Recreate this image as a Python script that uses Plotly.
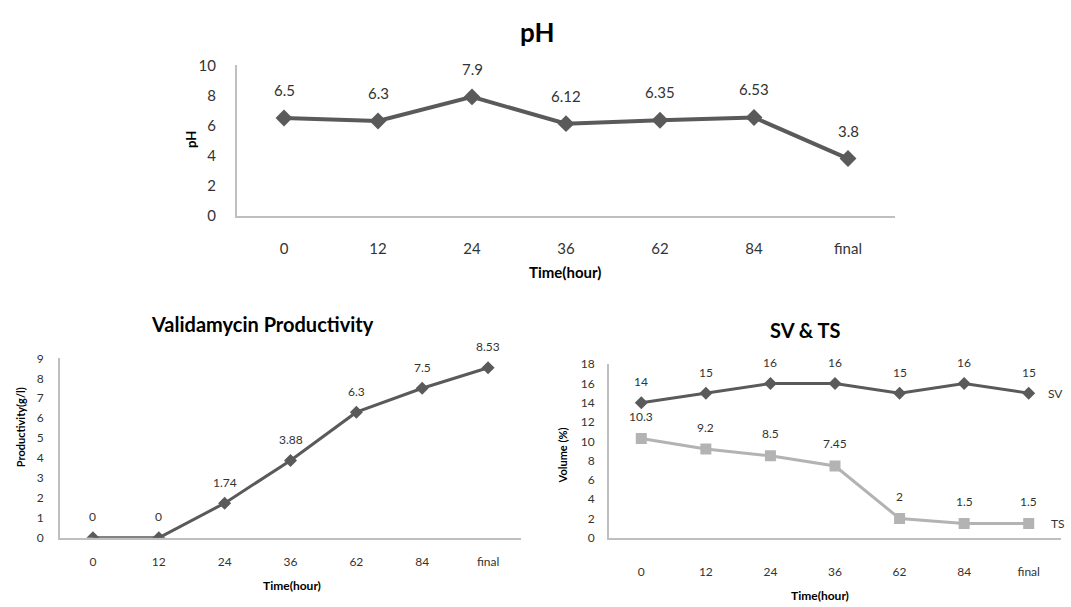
import plotly.graph_objects as go

W, H = 1071, 607

times = ["0", "12", "24", "36", "62", "84", "final"]
ph_values = [6.5, 6.3, 7.9, 6.12, 6.35, 6.53, 3.8]
ph_labels = ["6.5", "6.3", "7.9", "6.12", "6.35", "6.53", "3.8"]
prod_values = [0, 0, 1.74, 3.88, 6.3, 7.5, 8.53]
prod_labels = ["0", "0", "1.74", "3.88", "6.3", "7.5", "8.53"]
sv_values = [14, 15, 16, 16, 15, 16, 15]
sv_labels = ["14", "15", "16", "16", "15", "16", "15"]
ts_values = [10.3, 9.2, 8.5, 7.45, 2, 1.5, 1.5]
ts_labels = ["10.3", "9.2", "8.5", "7.45", "2", "1.5", "1.5"]

FONT = "Lato, 'Open Sans', sans-serif"
DARK = "#5a5a5a"
LIGHT = "#b3b3b3"
AXIS = "#bfbfbf"
TXT = "#333333"

def px_x(p):
    return p / W

def px_y(p):
    return 1 - p / H

fig = go.Figure()

fig.add_trace(go.Scatter(x=times, y=ph_values, mode="lines+markers", xaxis="x", yaxis="y",
                         line=dict(color=DARK, width=4),
                         marker=dict(symbol="diamond", size=13, color=DARK),
                         showlegend=False, hoverinfo="skip"))
fig.add_trace(go.Scatter(x=times, y=prod_values, mode="lines+markers", xaxis="x2", yaxis="y2",
                         line=dict(color=DARK, width=3),
                         marker=dict(symbol="diamond", size=10, color=DARK),
                         showlegend=False, hoverinfo="skip"))
fig.add_trace(go.Scatter(x=times, y=sv_values, mode="lines+markers", xaxis="x3", yaxis="y3",
                         line=dict(color=DARK, width=3),
                         marker=dict(symbol="diamond", size=10, color=DARK),
                         showlegend=False, hoverinfo="skip"))
fig.add_trace(go.Scatter(x=times, y=ts_values, mode="lines+markers", xaxis="x3", yaxis="y3",
                         line=dict(color=LIGHT, width=3),
                         marker=dict(symbol="square", size=11, color=LIGHT),
                         showlegend=False, hoverinfo="skip"))

annotations = []

def add_labels(xref, yref, ys, labels, shift, size):
    # category axes: annotation x given as the category index
    for i, (yv, lab) in enumerate(zip(ys, labels)):
        annotations.append(dict(x=i, y=yv, xref=xref, yref=yref, text=lab,
                                showarrow=False, yshift=shift,
                                font=dict(family=FONT, size=size, color=TXT)))

add_labels("x", "y", ph_values, ph_labels, 28, 15)
add_labels("x2", "y2", prod_values, prod_labels, 21, 12)
add_labels("x3", "y3", sv_values, sv_labels, 21, 12)
add_labels("x3", "y3", ts_values, ts_labels, 22, 12)

last = len(times) - 1
annotations.append(dict(x=last, y=sv_values[-1], xref="x3", yref="y3", text="SV",
                        showarrow=False, xshift=27, xanchor="center",
                        font=dict(family=FONT, size=12, color=TXT)))
annotations.append(dict(x=last, y=ts_values[-1], xref="x3", yref="y3", text="TS",
                        showarrow=False, xshift=29, xanchor="center",
                        font=dict(family=FONT, size=12, color=TXT)))

def text_ann(x, y, text, size, bold=True, angle=0):
    annotations.append(dict(x=px_x(x), y=px_y(y), xref="paper", yref="paper",
                            text=f"<b>{text}</b>" if bold else text, showarrow=False,
                            textangle=angle, xanchor="center", yanchor="middle",
                            font=dict(family=FONT, size=size, color="#000000")))

text_ann(537, 23, "pH", 26)
text_ann(565, 270, "Time(hour)", 15)
text_ann(191, 134, "pH", 13, angle=-90)

text_ann(262, 324, "Validamycin Productivity", 20)
text_ann(292, 593, "Time(hour)", 12)
text_ann(20, 430, "Productivity(g/l)", 11, angle=-90)

text_ann(805, 330, "SV &amp; TS", 20)
text_ann(820, 603, "Time(hour)", 12)
text_ann(562, 459, "Volume (%)", 11, angle=-90)

def xaxis(domain, anchor, ticklen, size):
    return dict(domain=domain, anchor=anchor, type="category", range=[-0.5, 6.5],
                showline=True, linecolor=AXIS, linewidth=2, showgrid=False, zeroline=False,
                ticks="outside", ticklen=ticklen, tickcolor="rgba(0,0,0,0)",
                tickfont=dict(family=FONT, size=size, color=TXT), fixedrange=True)

def yaxis(domain, anchor, rng, dtick, ticklen, size):
    return dict(domain=domain, anchor=anchor, range=rng, dtick=dtick,
                showline=True, linecolor=AXIS, linewidth=2, showgrid=False, zeroline=False,
                ticks="outside", ticklen=ticklen, tickcolor="rgba(0,0,0,0)",
                tickfont=dict(family=FONT, size=size, color=TXT), fixedrange=True)

fig.update_layout(
    width=W, height=H,
    margin=dict(l=0, r=0, t=0, b=0),
    paper_bgcolor="white", plot_bgcolor="white",
    xaxis=xaxis([px_x(237), px_x(895)], "y", 18, 15),
    yaxis=yaxis([px_y(212), px_y(57)], "x", [0, 10], 2, 16, 15),
    xaxis2=xaxis([px_x(60), px_x(521)], "y2", 12, 12),
    yaxis2=yaxis([px_y(544), px_y(359)], "x2", [0, 9], 1, 12, 12),
    xaxis3=xaxis([px_x(609), px_x(1061)], "y3", 22, 12),
    yaxis3=yaxis([px_y(544), px_y(365)], "x3", [0, 18], 2, 10, 12),
    annotations=annotations,
)

fig.write_html("out.html")
